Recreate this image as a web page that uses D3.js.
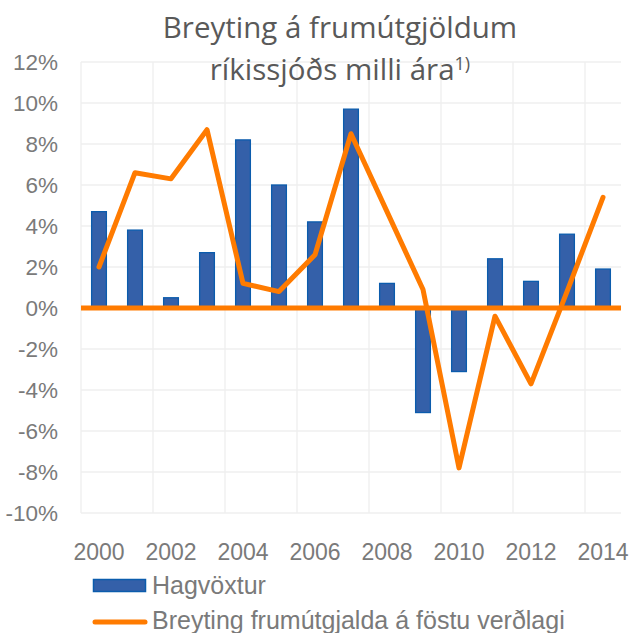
<!DOCTYPE html>
<html>
<head>
<meta charset="utf-8">
<script src="https://cdn.jsdelivr.net/npm/d3@7"></script>
<style>
  body { margin: 0; background: #fff; }
</style>
</head>
<body>
<div id="chart"></div>
<script>
// data
var years = ["2000","2001","2002","2003","2004","2005","2006","2007","2008","2009","2010","2011","2012","2013","2014"];
var hagvoxtur = [4.7, 3.8, 0.5, 2.7, 8.2, 6.0, 4.2, 9.7, 1.2, -5.1, -3.1, 2.4, 1.3, 3.6, 1.9];
var frumutgjold = [2.0, 6.6, 6.3, 8.7, 1.2, 0.8, 2.6, 8.5, 4.7, 0.9, -7.8, -0.4, -3.7, 0.8, 5.4];
var yTicks = [-10, -8, -6, -4, -2, 0, 2, 4, 6, 8, 10, 12];
var xTickLabels = ["2000","2002","2004","2006","2008","2010","2012","2014"];
var seriesNames = ["Hagvöxtur", "Breyting frumútgjalda á föstu verðlagi"];

var svgWidth = 632, svgHeight = 633;
var margin = { top: 62, right: 11, bottom: 120, left: 81 };

var blue = "#3460a9", blueEdge = "#0b5cad", orange = "#ff7b00";
var labelColor = "#7a7a7a", titleColor = "#595959", gridColor = "#efefef";

var svg = d3.select("#chart")
  .append("svg")
  .attr("width", svgWidth)
  .attr("height", svgHeight)
  .style("font-family", "'Liberation Sans', Arial, sans-serif");

var x = d3.scaleBand()
  .domain(years)
  .range([margin.left, svgWidth - margin.right]);

var y = d3.scaleLinear()
  .domain([-10, 12])
  .range([svgHeight - margin.bottom, margin.top]);

// horizontal gridlines
svg.append("g")
  .selectAll("line")
  .data(yTicks)
  .enter()
  .append("line")
  .attr("x1", x.range()[0])
  .attr("x2", x.range()[1])
  .attr("y1", d => y(d))
  .attr("y2", d => y(d))
  .attr("stroke", gridColor)
  .attr("stroke-width", 1.3);

// vertical gridlines, every second category boundary
svg.append("g")
  .selectAll("line")
  .data(xTickLabels)
  .enter()
  .append("line")
  .attr("x1", d => x(d))
  .attr("x2", d => x(d))
  .attr("y1", y(12))
  .attr("y2", y(-10))
  .attr("stroke", gridColor)
  .attr("stroke-width", 1.3);

// y axis labels
var yAxis = d3.axisLeft(y)
  .tickValues(yTicks)
  .tickFormat(d => d + "%")
  .tickSize(0)
  .tickPadding(23);

var yG = svg.append("g")
  .attr("transform", `translate(${margin.left},0)`)
  .call(yAxis);
yG.select(".domain").remove();
yG.selectAll("text")
  .style("font-size", "22.5px")
  .style("font-family", "'Liberation Sans', Arial, sans-serif")
  .attr("fill", labelColor);

// x axis labels
var xAxis = d3.axisBottom(x)
  .tickValues(xTickLabels)
  .tickSize(0)
  .tickPadding(30.5);

var xG = svg.append("g")
  .attr("transform", `translate(0,${y(-10)})`)
  .call(xAxis);
xG.select(".domain").remove();
xG.selectAll("text")
  .style("font-size", "23px")
  .style("font-family", "'Liberation Sans', Arial, sans-serif")
  .attr("fill", labelColor);

// bars
var barW = x.bandwidth() * 0.41;
svg.append("g")
  .selectAll("rect")
  .data(hagvoxtur)
  .enter()
  .append("rect")
  .attr("x", (d, i) => x(years[i]) + x.bandwidth() / 2 - barW / 2)
  .attr("y", d => y(Math.max(0, d)))
  .attr("width", barW)
  .attr("height", d => Math.abs(y(d) - y(0)))
  .attr("fill", blue)
  .attr("stroke", blueEdge)
  .attr("stroke-width", 1.3);

// zero line
svg.append("line")
  .attr("x1", x.range()[0])
  .attr("x2", x.range()[1])
  .attr("y1", y(0))
  .attr("y2", y(0))
  .attr("stroke", orange)
  .attr("stroke-width", 5);

// line series
var line = d3.line()
  .x((d, i) => x(years[i]) + x.bandwidth() / 2)
  .y(d => y(d));

svg.append("path")
  .datum(frumutgjold)
  .attr("d", line)
  .attr("fill", "none")
  .attr("stroke", orange)
  .attr("stroke-width", 5)
  .attr("stroke-linejoin", "round")
  .attr("stroke-linecap", "round");

// title
var title = svg.append("text")
  .attr("text-anchor", "middle")
  .style("font-family", "'Open Sans', 'Noto Sans', sans-serif")
  .style("font-size", "29.5px")
  .attr("fill", titleColor);
title.append("tspan")
  .attr("x", 340)
  .attr("y", 38)
  .text("Breyting á frumútgjöldum");
title.append("tspan")
  .attr("x", 340)
  .attr("y", 80)
  .text("ríkissjóðs milli ára");
title.append("tspan")
  .attr("dy", -10)
  .style("font-size", "18px")
  .text("1)");

// legend
var legend = svg.append("g");
legend.append("rect")
  .attr("x", 93.5)
  .attr("y", 579.5)
  .attr("width", 52)
  .attr("height", 12)
  .attr("fill", blue)
  .attr("stroke", blueEdge)
  .attr("stroke-width", 1.5);
legend.append("line")
  .attr("x1", 95)
  .attr("x2", 145)
  .attr("y1", 622)
  .attr("y2", 622)
  .attr("stroke", orange)
  .attr("stroke-width", 5)
  .attr("stroke-linecap", "round");
legend.selectAll("text")
  .data(seriesNames)
  .enter()
  .append("text")
  .attr("x", 152)
  .attr("y", (d, i) => 594 + i * 35)
  .style("font-size", "25px")
  .attr("fill", labelColor)
  .text(d => d);
</script>
</body>
</html>
